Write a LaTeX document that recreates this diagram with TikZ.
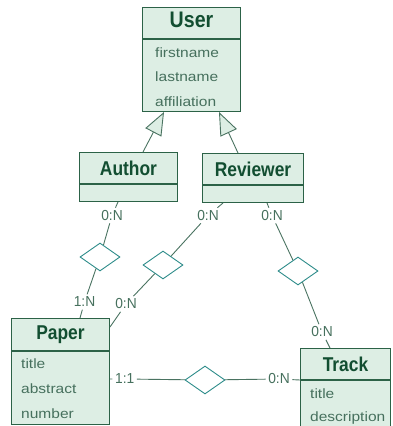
\documentclass[tikz,border=0pt]{standalone}
\usepackage{fontspec}
\setmainfont{Liberation Sans}
\newfontfamily\umlheadfont{Liberation Sans}[FakeStretch=0.87]
\newfontfamily\umlattrfont{Liberation Sans}[FakeStretch=1.15]
\newfontfamily\umlcardfont{Liberation Sans}[FakeStretch=0.95]
\usetikzlibrary{arrows.meta,shapes.geometric,positioning}
\definecolor{umlFill}{HTML}{DDEEE4}
\definecolor{umlEdge}{HTML}{2C6247}
\definecolor{umlTitle}{HTML}{124E31}
\definecolor{umlText}{HTML}{46705D}
\definecolor{umlLink}{HTML}{4A7361}
\definecolor{umlTeal}{HTML}{2D8C8A}
\tikzset{
  uml head/.style={draw=umlEdge, fill=umlFill, line width=1pt, inner sep=0pt, anchor=north west,
    text=umlTitle, font=\umlheadfont\bfseries\fontsize{20}{24}\selectfont},
  uml body/.style={draw=umlEdge, fill=umlFill, line width=1pt, inner sep=0pt, anchor=north},
  uml attr/.style={anchor=base west, inner sep=0pt, text=umlText, font=\umlattrfont\fontsize{13.5}{16}\selectfont},
  uml card/.style={inner sep=2.5pt, text=umlText, font=\umlcardfont\fontsize{14.5}{16}\selectfont},
  uml rel/.style={diamond, draw=umlTeal, fill=white, line width=0.9pt, minimum width=40pt, minimum height=28pt, inner sep=0pt},
  uml link/.style={draw=umlLink, line width=0.9pt},
  uml isa/.style={uml link, -{Triangle[length=23pt, width=18pt, fill=umlFill]}},
}

\begin{document}
\begin{tikzpicture}[x=1pt, y=-1pt]
  \useasboundingbox (0,0) rectangle (393,426);

  % classes: title box on top, attribute box below
  \node[uml head, minimum width=98pt, minimum height=31pt, text depth=7pt,
        font=\umlheadfont\bfseries\fontsize{22.5}{26}\selectfont] (user) at (142,7) {User};
  \node[uml body, minimum width=98pt, minimum height=72pt] (user body) at (user.south) {};
  \foreach \txt [count=\k] in {firstname,lastname,affiliation}
    \node[uml attr] (user attr \k) at (155, 32.5+24.5*\k) {\txt};

  \node[uml head, minimum width=98pt, minimum height=31pt] (author) at (79,152) {Author};
  \node[uml body, minimum width=98pt, minimum height=17pt] (author body) at (author.south) {};

  \node[uml head, minimum width=101pt, minimum height=31pt] (reviewer) at (202,153) {Reviewer};
  \node[uml body, minimum width=101pt, minimum height=17pt] (reviewer body) at (reviewer.south) {};

  \node[uml head, minimum width=98pt, minimum height=32pt] (paper) at (11,318) {Paper};
  \node[uml body, minimum width=98pt, minimum height=73pt] (paper body) at (paper.south) {};
  \foreach \txt [count=\k] in {title,abstract,number}
    \node[uml attr] (paper attr \k) at (21, 343+25*\k) {\txt};

  \node[uml head, minimum width=90pt, minimum height=31pt] (track) at (300,348) {Track};
  \node[uml body, minimum width=90pt, minimum height=70pt] (track body) at (track.south) {};
  \foreach \txt [count=\k] in {title,description}
    \node[uml attr] (track attr \k) at (310, 374.5+23.5*\k) {\txt};

  % inheritance
  \draw[uml isa] ([xshift=64pt]author.north west) -- ([xshift=22pt]user body.south west);
  \draw[uml isa] ([xshift=36pt]reviewer.north west) -- ([xshift=77pt]user body.south west);

  % relationships
  \node[uml rel] (writes) at (100,257) {};
  \node[uml rel] (reviews) at (163,265) {};
  \node[uml rel] (chairs) at (298,271) {};
  \node[uml rel] (submits) at (205,380) {};

  \node[uml card] (card author) at (112,215.5) {0:N};
  \node[uml card] (card paper w) at (84.5,302) {1:N};
  \node[uml card] (card reviewer p) at (208,215.5) {0:N};
  \node[uml card] (card paper r) at (126,304) {0:N};
  \node[uml card] (card reviewer t) at (272,215.5) {0:N};
  \node[uml card] (card track r) at (322,332) {0:N};
  \node[uml card] (card paper t) at (124.7,379) {1:1};
  \node[uml card] (card track p) at (279,379) {0:N};

  \draw[uml link] ([xshift=39pt]author body.south west) -- (card author) -- (writes)
    -- (card paper w) -- ([xshift=69pt]paper.north west);
  \draw[uml link] ([xshift=21pt]reviewer body.south west) -- (card reviewer p) -- (reviews)
    -- (card paper r) -- ([yshift=-9pt]paper.north east);
  \draw[uml link] ([xshift=65pt]reviewer body.south west) -- (card reviewer t) -- (chairs)
    -- (card track r) -- ([xshift=30pt]track.north west);
  \draw[uml link] ([yshift=-61pt]paper.north east) -- (card paper t) -- (submits)
    -- (card track p) -- (track.south west);
\end{tikzpicture}
\end{document}
